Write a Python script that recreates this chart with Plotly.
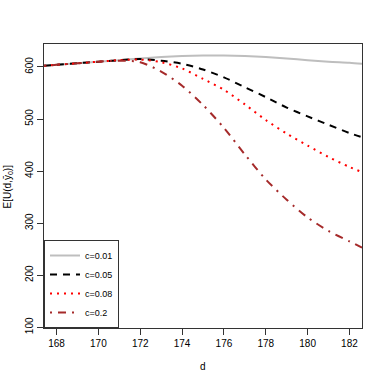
import plotly.graph_objects as go

d = [167.4, 168, 169, 170, 171, 172, 173, 174, 175, 176, 177, 178, 179, 180, 181, 182, 182.6]
u_c001 = [602, 604, 607, 610, 613, 616, 619, 621, 622, 622, 621, 619, 616, 613, 610, 608, 606]
u_c005 = [602, 604, 607, 610, 613, 615, 612, 606, 595, 580, 561, 542, 522, 505, 489, 473, 465]
u_c008 = [602, 604, 607, 610, 613, 614, 609, 597, 577, 556, 528, 498, 472, 449, 427, 408, 398]
u_c02 = [602, 604, 607, 610, 612, 609, 591, 564, 527, 483, 432, 384, 345, 311, 285, 265, 253]

names = ["c=0.01", "c=0.05", "c=0.08", "c=0.2"]
x_ticks = [168, 170, 172, 174, 176, 178, 180, 182]
y_ticks = [100, 200, 300, 400, 500, 600]

styles = [
    dict(color="#BEBEBE", width=2, dash="solid"),
    dict(color="#000000", width=2, dash="7px,6px"),
    dict(color="#FF0000", width=2, dash="2px,5px"),
    dict(color="#A52A2A", width=2, dash="2px,6px,8px,6px"),
]

fig = go.Figure()
for name, ys, st in zip(names, [u_c001, u_c005, u_c008, u_c02], styles):
    fig.add_trace(go.Scatter(x=d, y=ys, mode="lines", name=name,
                             line=dict(shape="spline", smoothing=0.8, **st)))

font = dict(family="Liberation Sans, Arial, sans-serif", size=10, color="#000")
axis_common = dict(showline=True, linecolor="#333", linewidth=1, mirror=True,
                   ticks="outside", ticklen=6, tickcolor="#333", showgrid=False,
                   zeroline=False, tickfont=font, automargin=False)

fig.update_layout(
    width=385, height=385,
    margin=dict(l=44, r=23, t=44, b=57),
    paper_bgcolor="white", plot_bgcolor="white",
    font=font,
    showlegend=True,
    legend=dict(x=0, y=0, xanchor="left", yanchor="bottom",
                bordercolor="#333", borderwidth=1, bgcolor="white",
                font=dict(family="Liberation Sans, Arial, sans-serif", size=9),
                tracegroupgap=0, itemwidth=30),
    xaxis=dict(range=[167.4, 182.6], tickvals=x_ticks, **axis_common),
    yaxis=dict(range=[98.7, 644], tickvals=y_ticks, tickangle=-90, **axis_common),
    annotations=[
        dict(text="d", xref="paper", yref="paper", x=0.5, y=-0.137,
             xanchor="center", yanchor="middle", showarrow=False, font=font),
        dict(text="E[U(d,ȳ<sub>0</sub>)]", xref="paper", yref="paper", x=-0.112, y=0.5,
             xanchor="center", yanchor="middle", textangle=-90, showarrow=False, font=font),
    ],
)

fig.write_html("out.html", config={"displayModeBar": False},
               post_script="document.body.style.margin='0';")
